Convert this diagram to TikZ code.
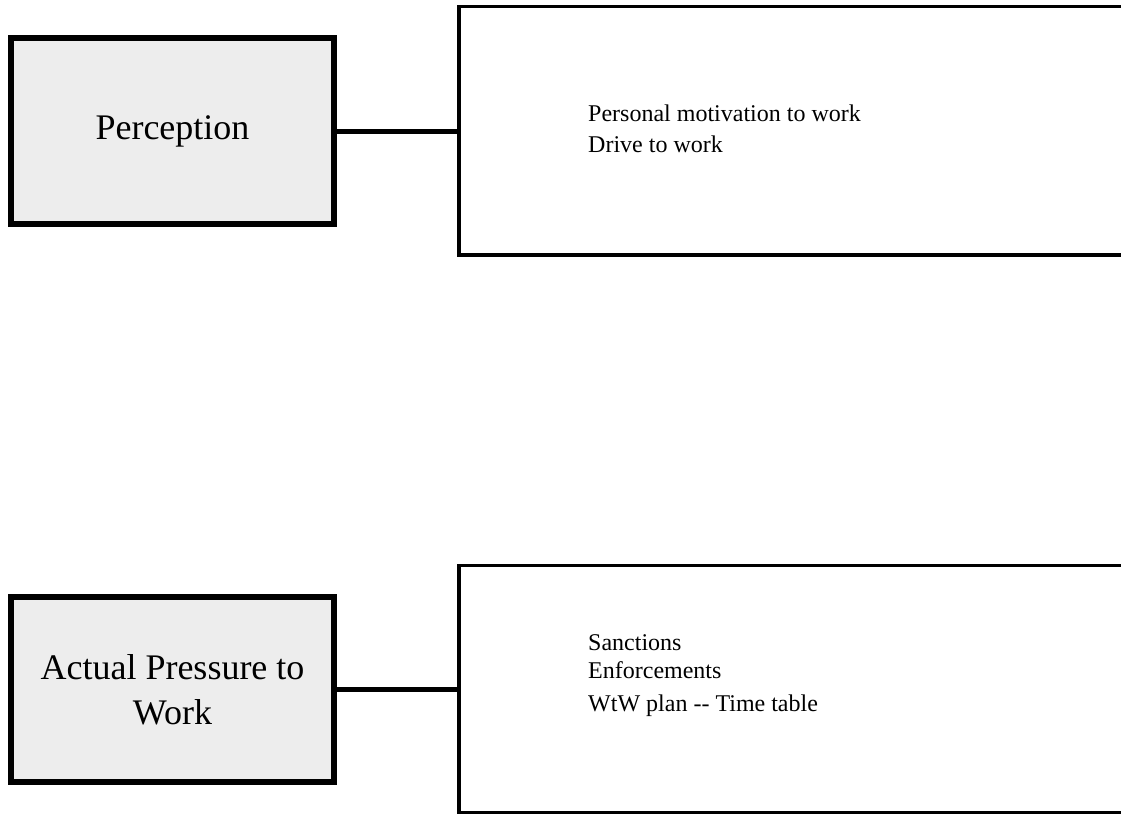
\documentclass[tikz,border=0pt]{standalone}
\usepackage{fontspec}
\setmainfont{Liberation Serif}
\begin{document}
\begin{tikzpicture}[x=1pt,y=-1pt,
  catbox/.style={draw=black, line width=6pt, fill=black!7, inner sep=0pt,
    minimum width=323pt, align=center, font=\fontsize{36pt}{45pt}\selectfont},
  listbox/.style={draw=black, line width=3.5pt, fill=white, inner sep=0pt,
    minimum width=676pt},
  item/.style={anchor=base west, inner sep=0pt, font=\fontsize{24pt}{29pt}\selectfont},
  conn/.style={draw=black, line width=5pt}]
\useasboundingbox (0,0) rectangle (1121,814);
% top row
\node[catbox, minimum height=186pt] (perc) at (172.5,131) {Perception};
\node[listbox, minimum height=248.3pt] (rtop) at (797,130.85) {};
\node[item] (t1) at (588,121) {Personal motivation to work};
\node[item] (t2) at (588,152) {Drive to work};
\draw[conn] (perc.east) -- (perc.east -| rtop.west);
% bottom row
\node[catbox, minimum height=185pt] (apw) at (172.5,689.5) {Actual Pressure to\\Work};
\node[listbox, minimum height=246.8pt] (rbot) at (797,689.1) {};
\node[item] (b1) at (588,650.7) {Sanctions};
\node[item] (b2) at (588,678.3) {Enforcements};
\node[item] (b3) at (588,711.7) {WtW plan \mbox{-}\mbox{-} Time table};
\draw[conn] (apw.east) -- (apw.east -| rbot.west);
\end{tikzpicture}
\end{document}
